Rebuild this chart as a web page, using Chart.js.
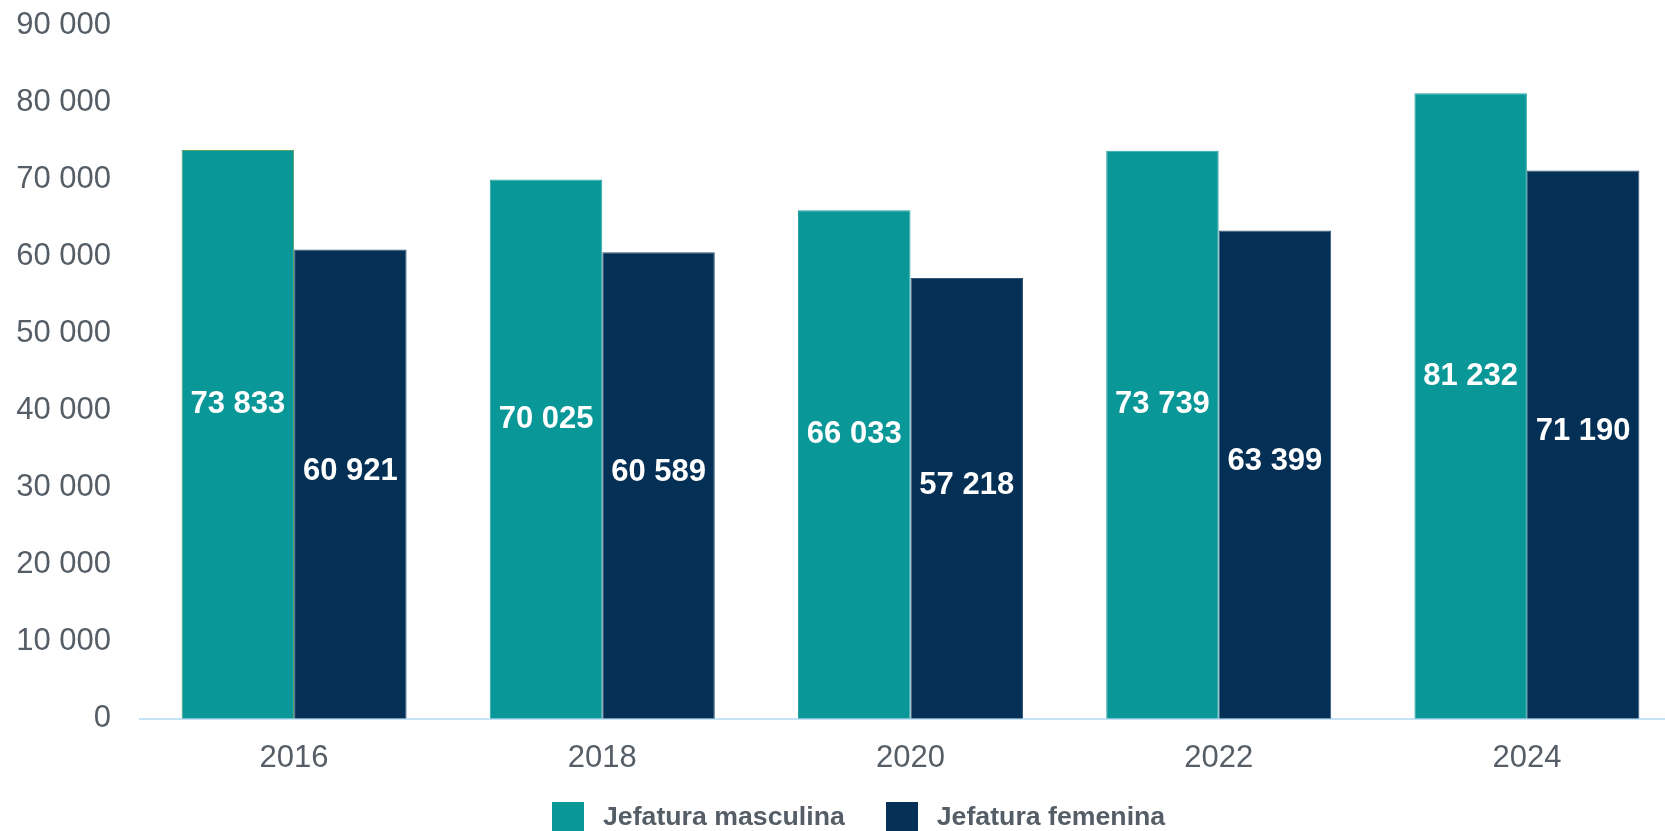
<!DOCTYPE html>
<html lang="es">
<head>
<meta charset="utf-8">
<title>Jefatura de hogar</title>
<script src="https://cdn.jsdelivr.net/npm/chart.js@4/dist/chart.umd.min.js"></script>
<style>
  html, body { margin: 0; padding: 0; background: #ffffff; overflow: hidden; height: 831px; }
  #wrap { position: relative; width: 1681px; height: 850px; margin-top: -14px; }
  #leyenda {
    position: absolute; left: 552px; top: 802px;
    display: flex; align-items: center;
    font-family: "Liberation Sans", Arial, sans-serif;
    font-weight: bold; font-size: 26.7px; color: #555e67;
  }
  #leyenda .item { display: flex; align-items: center; margin-right: 41px; }
  #leyenda .caja { width: 32px; height: 32px; margin-right: 19px; }
  #leyenda .texto { line-height: 32px; position: relative; top: -2px; white-space: nowrap; }
</style>
</head>
<body>
<div id="wrap"><canvas id="grafico"></canvas></div>
<div id="leyenda"></div>
<script>
// Datos
const anios = ['2016', '2018', '2020', '2022', '2024'];
const jefaturaMasculina = [73833, 70025, 66033, 73739, 81232];
const jefaturaFemenina = [60921, 60589, 57218, 63399, 71190];
const etiquetasSeries = ['Jefatura masculina', 'Jefatura femenina'];

const colorTeal = '#0a9798';
const colorNavy = '#043056';
const colorTexto = '#555e67';
const fuente = '"Liberation Sans", Arial, sans-serif';

// Formato con espacio como separador de miles
function formatoMiles(v) {
  return String(v).replace(/\B(?=(\d{3})+(?!\d))/g, ' ');
}

// Plugin simple para las etiquetas dentro de las barras
const etiquetasBarras = {
  id: 'etiquetasBarras',
  afterDatasetsDraw(chart) {
    const ctx = chart.ctx;
    const desplazamientos = [-30, -13];
    ctx.save();
    ctx.font = 'bold 31px ' + fuente;
    ctx.fillStyle = '#ffffff';
    ctx.textAlign = 'center';
    ctx.textBaseline = 'middle';
    chart.data.datasets.forEach((ds, i) => {
      const meta = chart.getDatasetMeta(i);
      meta.data.forEach((bar, j) => {
        const y = (bar.y + bar.base) / 2 + desplazamientos[i];
        ctx.fillText(formatoMiles(ds.data[j]), bar.x, y);
      });
    });
    ctx.restore();
  }
};

const ctx = document.getElementById('grafico').getContext('2d');
const chart = new Chart(ctx, {
  type: 'bar',
  data: {
    labels: anios,
    datasets: [{
      label: etiquetasSeries[0],
      data: jefaturaMasculina,
      backgroundColor: colorTeal,
      borderColor: ['#5a9f62', '#28a4a6', '#28a4a6', '#28a4a6', '#28a4a6'],
      borderWidth: 1,
      categoryPercentage: 0.73,
      barPercentage: 1.0
    }, {
      label: etiquetasSeries[1],
      data: jefaturaFemenina,
      backgroundColor: colorNavy,
      borderColor: '#2f5678',
      borderWidth: 1,
      categoryPercentage: 0.73,
      barPercentage: 1.0
    }]
  },
  options: {
    responsive: true,
    maintainAspectRatio: false,
    animation: false,
    layout: {
      padding: { top: 13, right: 0, bottom: 46, left: 0 }
    },
    plugins: {
      legend: { display: false },
      tooltip: { enabled: false }
    },
    scales: {
      x: {
        grid: { display: false },
        border: { display: true, color: '#c6e2f7', width: 2 },
        ticks: {
          color: colorTexto,
          padding: 13,
          font: { family: fuente, size: 31 }
        }
      },
      y: {
        min: 0,
        max: 90000,
        grid: { display: false },
        border: { display: false },
        afterFit(scale) { scale.width = 140; },
        ticks: {
          stepSize: 10000,
          color: colorTexto,
          padding: 21,
          font: { family: fuente, size: 31 },
          callback: (v) => formatoMiles(v)
        }
      }
    }
  },
  plugins: [etiquetasBarras]
});

// Leyenda en HTML, construida a partir de los mismos datasets
const leyenda = document.getElementById('leyenda');
chart.data.datasets.forEach((ds) => {
  const item = document.createElement('div');
  item.className = 'item';
  const caja = document.createElement('span');
  caja.className = 'caja';
  caja.style.background = ds.backgroundColor;
  const texto = document.createElement('span');
  texto.className = 'texto';
  texto.textContent = ds.label;
  item.appendChild(caja);
  item.appendChild(texto);
  leyenda.appendChild(item);
});
</script>
</body>
</html>
